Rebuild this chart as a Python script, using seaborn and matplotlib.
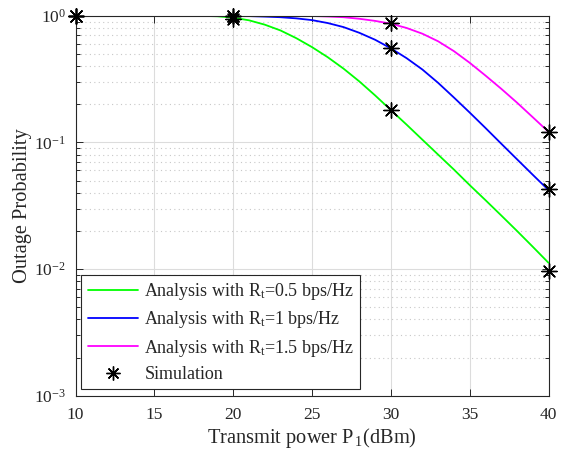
import numpy as np
import pandas as pd
import seaborn as sns
import matplotlib.pyplot as plt
from matplotlib.lines import Line2D
from matplotlib.ticker import LogLocator, NullFormatter, FixedLocator

# ---------------------------------------------------------
# data
# ---------------------------------------------------------
power = list(range(10, 41))

# analysis curves, outage probability vs transmit power
pout_r05 = [1.0] * 8 + [0.997, 0.99, 0.965, 0.92, 0.85, 0.765, 0.665, 0.565,
                        0.47, 0.382, 0.303, 0.235, 0.18, 0.138, 0.105, 0.08,
                        0.061, 0.046, 0.035, 0.0265, 0.020, 0.015, 0.0112]
pout_r10 = [1.0] * 10 + [0.998, 0.993, 0.984, 0.973, 0.953, 0.923, 0.875, 0.813,
                         0.733, 0.646, 0.553, 0.462, 0.376, 0.295, 0.226, 0.172,
                         0.130, 0.0977, 0.0736, 0.0555, 0.042]
pout_r15 = [1.0] * 15 + [0.995, 0.986, 0.973, 0.946, 0.91, 0.865, 0.80, 0.721,
                         0.628, 0.525, 0.425, 0.337, 0.265, 0.206, 0.158, 0.121]

# simulation points
sim_power = [10, 20, 30, 40]
sim_r05 = [1.0, 0.945, 0.18, 0.0097]
sim_r10 = [1.0, 0.998, 0.553, 0.0425]
sim_r15 = [1.0, 1.0, 0.87, 0.121]

labels = [r'Analysis with R$_{\rm t}$=0.5 bps/Hz',
          r'Analysis with R$_{\rm t}$=1 bps/Hz',
          r'Analysis with R$_{\rm t}$=1.5 bps/Hz']
colors = ['#00ff00', '#0000ff', '#ff00ff']

curves = pd.DataFrame({
    'power': power * 3,
    'pout': pout_r05 + pout_r10 + pout_r15,
    'label': [labels[0]] * len(power) + [labels[1]] * len(power) + [labels[2]] * len(power),
})
sims = pd.DataFrame({
    'power': sim_power * 3,
    'pout': sim_r05 + sim_r10 + sim_r15,
})

# ---------------------------------------------------------
# style
# ---------------------------------------------------------
sns.set_style('ticks')
plt.rcParams['font.family'] = ['Liberation Serif', 'DejaVu Serif']
plt.rcParams['mathtext.fontset'] = 'custom'
plt.rcParams['mathtext.rm'] = 'Liberation Serif'
plt.rcParams['mathtext.it'] = 'Liberation Serif:italic'
plt.rcParams['axes.unicode_minus'] = False

dark = '#262626'

fig = plt.figure(figsize=(5.69, 4.54), dpi=100)
ax = fig.add_axes([0.1327, 0.1284, 0.8313, 0.837])

sns.lineplot(data=curves, x='power', y='pout', hue='label', hue_order=labels,
             palette=colors, linewidth=1.3, legend=False, ax=ax)
sns.scatterplot(data=sims, x='power', y='pout', marker=(8, 2, 0), color='k',
                s=120, linewidth=1.0, clip_on=False, zorder=5, legend=False, ax=ax)

ax.set_yscale('log')
ax.set_xlim(10, 40)
ax.set_ylim(1e-3, 1.0)
ax.xaxis.set_major_locator(FixedLocator(range(10, 41, 5)))
ax.yaxis.set_major_locator(LogLocator(base=10, numticks=10))
ax.yaxis.set_minor_locator(LogLocator(base=10, subs=np.arange(2, 10), numticks=10))
ax.yaxis.set_minor_formatter(NullFormatter())

# grid like matlab: solid major, dotted minor
ax.grid(True, which='major', color='#dcdcdc', linewidth=0.8)
ax.grid(True, which='minor', axis='y', color='#c8c8c8', linestyle=(0, (1, 3)), linewidth=0.8)
ax.set_axisbelow(True)

ax.tick_params(which='both', direction='in', top=True, right=True,
               colors=dark, labelsize=12.5, labelcolor=dark)
ax.tick_params(which='major', length=5, width=0.7)
ax.tick_params(which='minor', length=3, width=0.7)
ax.tick_params(axis='x', which='major', pad=8)
ax.tick_params(axis='y', which='major', pad=7)
for s in ax.spines.values():
    s.set_color(dark)
    s.set_linewidth(0.8)

ax.set_xlabel(r'Transmit power P$_{\,1}$(dBm)', fontsize=14.7, color=dark, labelpad=2)
ax.set_ylabel('Outage Probability', fontsize=14.7, color=dark)
ax.yaxis.set_label_coords(-0.092, 0.5)

handles = [Line2D([], [], color=c, linewidth=1.3) for c in colors]
handles.append(Line2D([], [], color='k', marker=(8, 2, 0), linestyle='', markersize=10,
                      markeredgewidth=1.0))
leg = ax.legend(handles, labels + ['Simulation'], loc='lower left',
                bbox_to_anchor=(0.012, 0.017), borderaxespad=0, fontsize=13,
                frameon=True, fancybox=False, framealpha=1, edgecolor=dark,
                handlelength=2.8, handletextpad=0.35, labelspacing=0.4,
                borderpad=0.35)
leg.get_frame().set_linewidth(0.8)

fig.savefig('out.png', dpi=100)
